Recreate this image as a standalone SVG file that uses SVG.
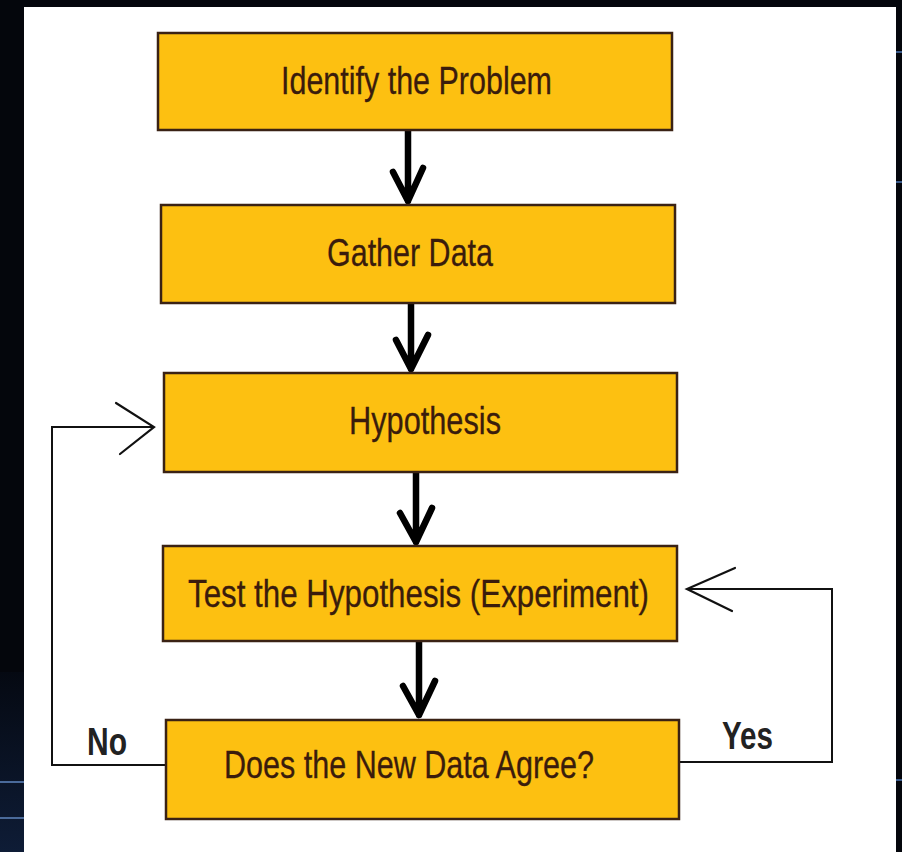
<svg xmlns="http://www.w3.org/2000/svg" width="902" height="852" viewBox="0 0 902 852">
  <style>
    .box { fill: #FDC011; stroke: #3a2214; stroke-width: 2.5; }
    .lbl { font-family: "Liberation Sans", Arial, sans-serif; font-size: 39px; fill: #3a1c0c; stroke: #3a1c0c; stroke-width: 0.3; }
    .yn { font-family: "Liberation Sans", Arial, sans-serif; font-size: 38px; font-weight: bold; fill: #222; }
    .flow { fill: none; stroke: #000; stroke-width: 6.5; stroke-linecap: round; stroke-linejoin: round; }
    .loop { fill: none; stroke: #111; stroke-width: 2; }
    .head { fill: none; stroke: #111; stroke-width: 2.2; stroke-linecap: round; }
  </style>
  <defs>
    <linearGradient id="navy" x1="0" y1="0" x2="0" y2="1">
      <stop offset="0" stop-color="#050912"/>
      <stop offset="1" stop-color="#0e1c36"/>
    </linearGradient>
  </defs>
  <!-- background -->
  <rect x="0" y="0" width="902" height="852" fill="#04060c"/>
  <rect x="0" y="672" width="24" height="180" fill="url(#navy)"/>
  <line x1="0" y1="782" x2="24" y2="782" stroke="#4a6a9a" stroke-width="2"/>
  <line x1="0" y1="818" x2="24" y2="818" stroke="#4a6a9a" stroke-width="2"/>
  <line x1="896" y1="52" x2="902" y2="52" stroke="#3a5a8a" stroke-width="2"/>
  <line x1="896" y1="182" x2="902" y2="182" stroke="#3a5a8a" stroke-width="2"/>
  <line x1="896" y1="780" x2="902" y2="780" stroke="#3a5a8a" stroke-width="2"/>
  <rect x="24" y="7" width="872" height="845" fill="#ffffff"/>

  <g id="connectors">
    <!-- main flow arrows -->
    <path class="flow" d="M408,131 V201 M393,172 L408,201 L423,168"/>
    <path class="flow" d="M411,304 V369 M396,340 L411,369 L428,335"/>
    <path class="flow" d="M416,473 V542 M400,513 L416,542 L432,508"/>
    <path class="flow" d="M419,642 V715 M403,686 L419,715 L435,681"/>
    <!-- No loop -->
    <polyline class="loop" points="166,765 52,765 52,427 154,427"/>
    <path class="head" d="M116,403 L154,427 L120,454"/>
    <!-- Yes loop -->
    <polyline class="loop" points="679,762 832,762 832,589 687,589"/>
    <path class="head" d="M735,568 L687,589 L732,611"/>
  </g>

  <g id="identify">
    <rect class="box" x="158" y="33" width="514" height="97"/>
    <text class="lbl" x="281" y="94" textLength="271" lengthAdjust="spacingAndGlyphs">Identify the Problem</text>
  </g>
  <g id="gather">
    <rect class="box" x="161" y="205" width="514" height="98"/>
    <text class="lbl" x="327" y="266" textLength="166" lengthAdjust="spacingAndGlyphs">Gather Data</text>
  </g>
  <g id="hypothesis">
    <rect class="box" x="164" y="373" width="513" height="99"/>
    <text class="lbl" x="349" y="434" textLength="152" lengthAdjust="spacingAndGlyphs">Hypothesis</text>
  </g>
  <g id="test">
    <rect class="box" x="163" y="546" width="514" height="95"/>
    <text class="lbl" x="188" y="607" textLength="461" lengthAdjust="spacingAndGlyphs">Test the Hypothesis (Experiment)</text>
  </g>
  <g id="agree">
    <rect class="box" x="166" y="720" width="513" height="99"/>
    <text class="lbl" x="224" y="778" textLength="370" lengthAdjust="spacingAndGlyphs">Does the New Data Agree?</text>
  </g>
  <g id="labels">
    <text class="yn" x="87" y="755" textLength="40" lengthAdjust="spacingAndGlyphs">No</text>
    <text class="yn" x="722" y="749" textLength="51" lengthAdjust="spacingAndGlyphs">Yes</text>
  </g>
</svg>
